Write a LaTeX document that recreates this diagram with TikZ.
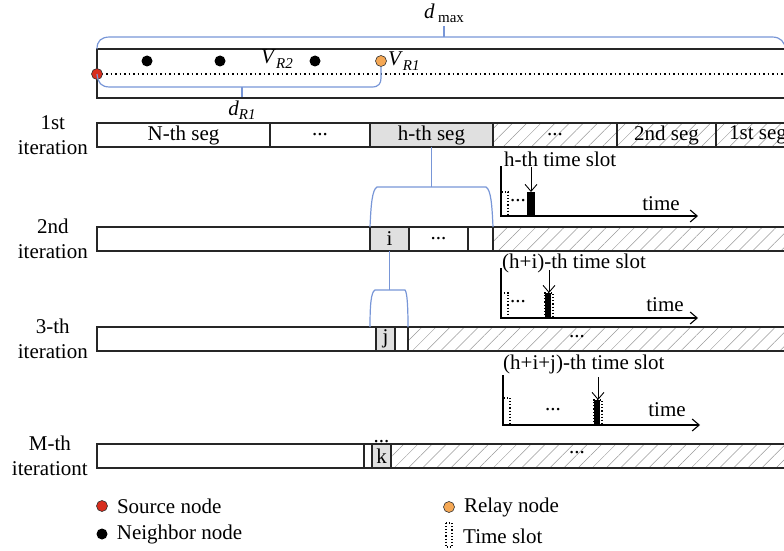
\documentclass[tikz,border=0pt]{standalone}
\usepackage{fontspec}
\setmainfont{Liberation Serif}
\usetikzlibrary{arrows.meta,patterns.meta,positioning}
\definecolor{brk}{RGB}{120,150,215}
\definecolor{seggray}{RGB}{224,224,224}
\definecolor{srcred}{RGB}{215,45,30}
\definecolor{relayorange}{RGB}{245,168,85}
\newcommand{\lowsub}[1]{\raisebox{-0.45ex}{\fontsize{15}{15}\selectfont #1}}
\tikzstyle{seg} = [rectangle, draw=black!85, line width=1.2pt, minimum height=24pt, inner sep=0pt, outer sep=0pt, anchor=north west]
\tikzstyle{hseg} = [seg, fill=seggray]
\tikzstyle{hatched} = [seg, line width=1.7pt, pattern={Lines[angle=45,distance=10pt,line width=0.5pt]}, pattern color=black!40]
\tikzstyle{rowlabel} = [align=center, anchor=east, inner sep=0pt]
\tikzstyle{nbr} = [circle, fill=black, minimum size=11pt, inner sep=0pt]
\tikzstyle{srcdot} = [circle, draw=black!80, fill=srcred, minimum size=11pt, inner sep=0pt, line width=0.6pt]
\tikzstyle{relaydot} = [circle, draw=black!80, fill=relayorange, minimum size=11pt, inner sep=0pt, line width=0.6pt]
\tikzstyle{bracket} = [draw=brk, line width=1.2pt]
\tikzstyle{slotbox} = [draw, dotted, line width=1.1pt]
\tikzstyle{axis} = [draw, line width=1.1pt]

\begin{document}
\begin{tikzpicture}[x=1pt, y=-1pt, >={Straight Barb[length=7pt,width=12pt]}, font=\fontsize{21}{24.5}\selectfont]
   \useasboundingbox (0,0) rectangle (784,551);

   % network area
   \node[seg, minimum width=703pt, minimum height=49pt] (area) at (97,49) {};
   \coordinate (lineend) at (800,74);
   \draw[line width=1.3pt, dash pattern=on 1.5pt off 3pt] (97,74) -- (lineend);
   \node[srcdot] (src) at (97,74) {};
   \node[nbr] (n1) at (147,61) {};
   \node[nbr] (n2) at (220,61) {};
   \node[nbr] (n3) at (315,61) {};
   \node[relaydot] (r1) at (381,61) {};
   \node (vr2) at (277,59) {\textit{V}\lowsub{\textit{R2}}};
   \node[right=0pt of r1, inner sep=1pt] (vr1) {\textit{V}\lowsub{\textit{R1}}};
   \node (dmax) at (444,13) {\textit{d}\,\lowsub{max}};
   \node (dr1) at (242,110) {\textit{d}\lowsub{\textit{R1}}};

   % 1st iteration
   \node[seg, minimum width=173pt] (nseg) at (97,123) {N-th seg};
   \node[seg, minimum width=100pt] (dots1) at (nseg.north east) {...};
   \node[hseg, minimum width=123pt] (hseg) at (dots1.north east) {h-th seg};
   \node[hatched, minimum width=124pt] (hat1) at (hseg.north east) {...};
   \node[hatched, minimum width=99pt] (seg2) at (hat1.north east) {2nd seg};
   \node[hatched, minimum width=84pt] (seg1) at (seg2.north east) {1st seg};
   \node[rowlabel, left=9pt of nseg.west] (it1) {1st\\iteration};

   % 2nd iteration
   \node[seg, minimum width=273pt] (w2) at (97,227) {};
   \node[hseg, minimum width=39pt] (iseg) at (w2.north east) {i};
   \node[seg, minimum width=59pt] (dots2) at (iseg.north east) {...};
   \node[seg, minimum width=25pt] (e2) at (dots2.north east) {};
   \node[hatched, minimum width=307pt] (hat2) at (e2.north east) {};
   \node[rowlabel, left=9pt of w2.west] (it2) {2nd\\iteration};

   % 3-th iteration
   \node[seg, minimum width=279pt] (w3) at (97,327) {};
   \node[hseg, minimum width=19pt] (jseg) at (w3.north east) {j};
   \node[seg, minimum width=13pt] (e3) at (jseg.north east) {};
   \node[hatched, minimum width=392pt] (hat3) at (e3.north east) {};
   \node (dots3) at (577,337) {...};
   \node[rowlabel, left=9pt of w3.west] (it3) {3-th\\iteration};

   % M-th iteration
   \node[seg, minimum width=267pt] (wm) at (97,444) {};
   \node[seg, minimum width=8pt] (em) at (wm.north east) {};
   \node[hseg, minimum width=19pt] (kseg) at (em.north east) {k};
   \node[hatched, minimum width=409pt] (hatm) at (kseg.north east) {};
   \node (dotsm) at (577,453) {...};
   \node[above=1pt of kseg, inner sep=0pt] (dotsk) {...};
   \node[rowlabel, left=9pt of wm.west] (itm) {M-th\\iterationt};

   % time slots
   \coordinate (o1) at (501,216);
   \draw[axis, ->] (501,166) -- (o1) -- (698,216);
   \draw[slotbox] (o1) rectangle (508,192);
   \fill (527,192) rectangle (535,216);
   \node (tdots1) at (518,201) {...};
   \draw[->, line width=0.9pt] (531,167) -- (531,192);
   \node[anchor=west, inner sep=0pt] (ts1) at (504,159) {h-th time slot};
   \node (time1) at (661,204) {time};

   \coordinate (o2) at (501,318);
   \draw[axis, ->] (501,268) -- (o2) -- (698,318);
   \draw[slotbox] (o2) rectangle (508,293);
   \draw[slotbox] (545,318) rectangle (553,293);
   \fill (545,293) rectangle (551,318);
   \node (tdots2) at (518,302) {...};
   \draw[->, line width=0.9pt] (549,270) -- (549,293);
   \node[anchor=west, inner sep=0pt] (ts2) at (502,263) {(h+i)-th time slot};
   \node (time2) at (665,305) {time};

   \coordinate (o3) at (503,425);
   \draw[axis, ->] (503,375) -- (o3) -- (700,425);
   \draw[slotbox] (o3) rectangle (510,398);
   \draw[slotbox] (594,425) rectangle (602,400);
   \fill (594,400) rectangle (600,425);
   \node (tdots3) at (553,410) {...};
   \draw[->, line width=0.9pt] (598,377) -- (598,400);
   \node[anchor=west, inner sep=0pt] (ts3) at (503,364) {(h+i+j)-th time slot};
   \node (time3) at (667,410) {time};

   % legend
   \node[srcdot] (lsrc) at (102,506) {};
   \node[right=9pt of lsrc, inner sep=0pt] (lsrct) {Source node};
   \node[nbr] (lnbr) at (102,534) {};
   \node[right=9pt of lnbr, inner sep=0pt] (lnbrt) {Neighbor node};
   \node[relaydot] (lrel) at (449,507) {};
   \node[right=9pt of lrel, inner sep=0pt] (lrelt) {Relay node};
   \draw[slotbox] (446,523) rectangle (452,547);
   \node[anchor=west, inner sep=0pt] (lslot) at (463,536) {Time slot};

   % brackets
   \draw[bracket] (area.north west) .. controls (97,41) and (101,37) .. (110,37) -- (772,37) .. controls (781,37) and (784,42) .. (786,49);
   \draw[bracket] (444,37) -- (dmax.south);
   \draw[bracket] (src.center) .. controls (98,83) and (101,87) .. (110,87) -- (372,87) .. controls (379,87) and (381,83) .. (381,78) -- (r1.south);
   \draw[bracket] (242,87) -- (dr1.north);
   \draw[bracket] (hseg.south) -- (431.5,187);
   \draw[bracket] (w2.north east) .. controls (371,205) and (372,190) .. (377,187) -- (486,187) .. controls (491,190) and (492,205) .. (hat2.north west);
   \draw[bracket] (iseg.south) -- (389.5,290);
   \draw[bracket] (iseg.west |- w3.north) .. controls (370,305) and (371,292) .. (375,290) -- (405,290) .. controls (407,292) and (408,305) .. (hat3.north west);
\end{tikzpicture}
\end{document}
